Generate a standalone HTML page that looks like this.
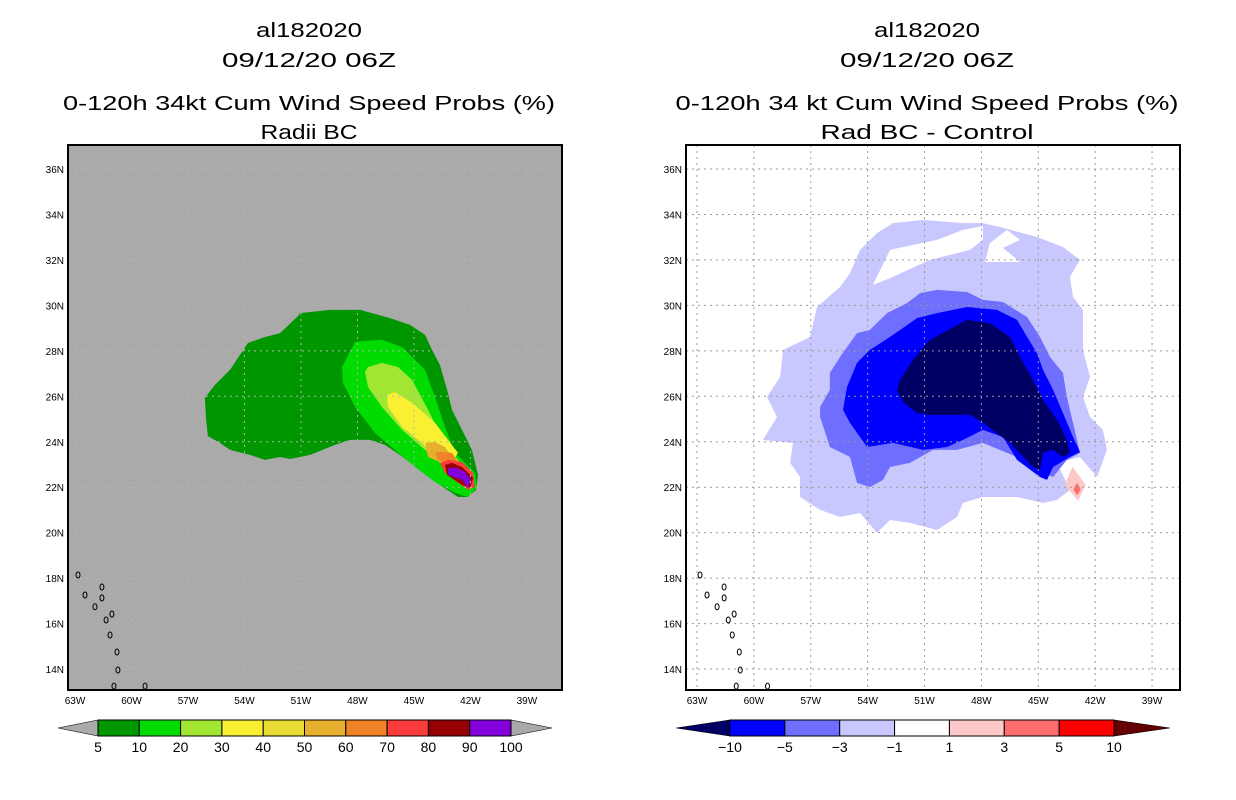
<!DOCTYPE html>
<html><head><meta charset="utf-8"><style>
html,body{margin:0;padding:0;background:#fff;}
svg{display:block;font-family:"Liberation Sans",sans-serif;}
</style></head><body>
<svg id="fig" width="1236" height="800" viewBox="0 0 1236 800">
<g id="titles" font-size="20" fill="#000">
<text x="309" y="37" text-anchor="middle" textLength="106" lengthAdjust="spacingAndGlyphs">al182020</text>
<text x="309" y="67" text-anchor="middle" textLength="174" lengthAdjust="spacingAndGlyphs">09/12/20 06Z</text>
<text x="309" y="110" text-anchor="middle" textLength="492" lengthAdjust="spacingAndGlyphs">0-120h 34kt Cum Wind Speed Probs (%)</text>
<text x="309" y="139" text-anchor="middle" textLength="97" lengthAdjust="spacingAndGlyphs">Radii BC</text>
<text x="927" y="37" text-anchor="middle" textLength="106" lengthAdjust="spacingAndGlyphs">al182020</text>
<text x="927" y="67" text-anchor="middle" textLength="174" lengthAdjust="spacingAndGlyphs">09/12/20 06Z</text>
<text x="927" y="110" text-anchor="middle" textLength="503" lengthAdjust="spacingAndGlyphs">0-120h 34 kt Cum Wind Speed Probs (%)</text>
<text x="927" y="139" text-anchor="middle" textLength="213" lengthAdjust="spacingAndGlyphs">Rad BC - Control</text>
</g>
</svg>
<script>
// ---- data (lon, lat in degrees; west negative) ----
const lonTicks = [-63,-60,-57,-54,-51,-48,-45,-42,-39];
const latTicks = [14,16,18,20,22,24,26,28,30,32,34,36];
const leftLevels = ["5","10","20","30","40","50","60","70","80","90","100"];
const leftColors = ["#009600","#00dc00","#a0e632","#faf032","#e6dc32","#e6af2d","#f08228","#fa3c3c","#960000","#8200dc"];
const rightLevels = ["-10","-5","-3","-1","1","3","5","10"];
const rightColors = ["#0000ff","#6e6eff","#c8c8ff","#ffffff","#ffc8c8","#ff6e6e","#ff0000"];
const prob5 = [[-51.05,29.66],[-49.46,29.8],[-47.86,29.8],[-46.27,29.44],[-45.21,29.14],[-44.41,28.7],[-44.04,28.04],[-43.62,27.38],[-43.24,26.28],[-42.98,25.4],[-42.45,24.52],[-41.92,23.64],[-41.6,22.54],[-41.7,21.88],[-42.18,21.57],[-42.66,21.57],[-43.62,22.1],[-44.68,22.76],[-45.74,23.42],[-46.54,23.86],[-47.33,24.08],[-48.4,24.08],[-49.19,23.86],[-50.52,23.42],[-51.58,23.24],[-52.11,23.33],[-52.91,23.2],[-53.71,23.42],[-54.77,23.64],[-55.3,23.95],[-55.94,24.25],[-56.04,24.96],[-56.1,25.93],[-55.57,26.5],[-54.77,27.16],[-53.81,28.35],[-52.91,28.61],[-52.11,28.78],[-51.16,29.53]];
const prob10 = [[-48.13,28.39],[-48.82,27.29],[-48.77,26.59],[-48.13,25.53],[-47.07,24.39],[-46.01,23.64],[-44.94,22.89],[-43.88,22.23],[-42.82,21.75],[-42.13,21.57],[-41.65,22.01],[-41.76,22.63],[-42.82,23.51],[-43.35,24.65],[-43.88,25.97],[-44.41,27.16],[-45.63,28.17],[-46.7,28.48],[-47.76,28.43]];
const prob20 = [[-47.6,27.07],[-47.44,26.41],[-46.7,25.53],[-45.63,24.52],[-44.41,23.64],[-43.35,22.89],[-42.45,22.23],[-41.92,22.01],[-41.86,22.45],[-42.66,23.2],[-43.35,23.95],[-44.25,25.4],[-45.1,26.72],[-45.85,27.29],[-46.7,27.47],[-47.44,27.29]];
const prob30 = [[-46.43,26.06],[-46.38,25.53],[-45.63,24.65],[-44.57,23.95],[-43.88,23.33],[-43.08,22.98],[-42.66,23.51],[-43.19,24.08],[-43.88,24.83],[-45.1,25.71],[-46.01,26.19]];
const prob40 = [[-44.41,23.95],[-44.25,23.33],[-43.51,23.07],[-42.98,23.33],[-43.35,23.77],[-43.88,23.99]];
const prob60 = [[-43.88,23.51],[-43.72,23.2],[-43.19,23.02],[-42.66,23.11],[-42.98,23.51],[-43.51,23.55]];
const prob70 = [[-43.62,23.07],[-43.35,22.63],[-42.66,22.19],[-42.13,21.88],[-41.76,22.01],[-41.86,22.63],[-42.45,23.11],[-43.19,23.2]];
const prob80 = [[-43.35,22.98],[-43.24,22.54],[-42.45,22.1],[-42.02,21.97],[-41.86,22.41],[-42.45,22.89],[-42.98,23.07]];
const prob90 = [[-43.19,22.85],[-43.19,22.54],[-42.45,22.32],[-42.13,21.97],[-41.97,22.32],[-42.29,22.67],[-42.71,22.85]];
const diff1 = [[-53.51,33.18],[-52.66,33.62],[-51.08,33.76],[-48.97,33.62],[-47.92,33.62],[-47.02,33.45],[-45.07,33.01],[-43.7,32.57],[-42.8,32.0],[-43.33,31.25],[-43.17,30.37],[-42.64,29.8],[-42.64,28.04],[-42.27,26.85],[-42.64,25.97],[-42.27,25.09],[-41.59,24.52],[-41.38,23.64],[-41.9,22.45],[-42.8,23.33],[-44.01,23.07],[-43.33,21.88],[-44.01,21.44],[-44.75,21.31],[-46.12,21.57],[-47.92,21.57],[-48.97,21.31],[-49.29,20.69],[-50.34,20.12],[-51.77,20.43],[-52.82,20.56],[-53.51,19.99],[-54.4,20.87],[-55.46,20.69],[-56.51,21.0],[-57.57,21.57],[-57.57,22.45],[-58.09,23.07],[-57.94,23.95],[-59.52,24.08],[-58.78,25.09],[-59.31,25.97],[-58.62,26.85],[-58.46,28.04],[-57.04,28.61],[-56.67,29.93],[-55.46,30.81],[-54.93,31.42],[-54.4,32.44]];
const holeA = [[-48.97,33.32],[-50.34,32.88],[-52.82,32.44],[-53.72,30.9],[-52.82,31.2],[-50.71,32.0],[-48.6,32.44],[-47.92,32.88],[-47.92,33.49]];
const holeB = [[-47.55,32.74],[-46.65,33.32],[-45.96,32.88],[-46.86,32.53],[-45.96,31.91],[-47.81,31.91]];
const diff3 = [[-50.34,30.68],[-48.76,30.59],[-47.92,30.24],[-46.86,30.15],[-45.59,29.49],[-44.91,28.61],[-44.38,27.73],[-43.7,27.03],[-43.49,25.97],[-43.17,24.83],[-42.8,23.51],[-43.49,23.2],[-44.22,22.45],[-44.75,22.63],[-46.12,23.33],[-47.92,23.95],[-49.29,23.64],[-50.55,23.64],[-51.77,23.07],[-52.82,22.89],[-53.19,22.32],[-53.88,22.01],[-54.56,22.19],[-54.93,23.33],[-55.99,23.77],[-56.51,25.09],[-56.51,25.53],[-55.99,26.28],[-55.99,27.03],[-55.46,27.73],[-54.56,28.78],[-53.88,28.92],[-52.98,29.66],[-51.92,30.1],[-51.24,30.54]];
const diff5 = [[-51.4,29.44],[-50.34,29.66],[-48.76,29.93],[-47.18,29.8],[-46.12,29.36],[-45.59,28.61],[-45.07,27.9],[-44.75,27.16],[-44.22,26.28],[-43.7,25.27],[-43.17,24.21],[-42.8,23.55],[-43.33,23.33],[-44.22,22.89],[-44.54,22.32],[-44.91,22.45],[-46.12,23.2],[-46.86,24.21],[-47.92,24.52],[-48.97,24.08],[-49.81,23.77],[-51.08,23.64],[-52.66,23.95],[-54.03,23.77],[-54.93,24.83],[-55.3,25.4],[-55.09,26.41],[-54.56,27.47],[-53.88,28.04],[-52.82,28.61],[-51.77,29.22]];
const diff10 = [[-52.45,26.28],[-52.29,26.72],[-51.61,27.6],[-50.71,28.48],[-50.03,28.79],[-48.76,29.36],[-47.55,29.22],[-46.49,28.61],[-45.96,27.73],[-45.28,26.72],[-44.75,25.84],[-44.01,24.96],[-43.49,24.08],[-43.33,23.51],[-43.7,23.33],[-44.22,23.64],[-44.75,23.51],[-44.91,22.76],[-45.28,22.89],[-46.49,23.95],[-47.92,24.83],[-48.6,25.18],[-50.71,25.18],[-51.4,25.27],[-52.14,25.75]];
const pinkA = [[-43.2,22.9],[-43.6,22.1],[-42.9,21.4],[-42.5,22.1]];
const redA = [[-42.95,22.2],[-43.15,21.9],[-42.95,21.65],[-42.75,21.9]];
const islands = [[-62.84,18.14],[-62.47,17.26],[-61.94,16.74],[-61.57,17.61],[-61.57,17.13],[-61.35,16.16],[-61.04,16.42],[-61.14,15.5],[-60.77,14.75],[-60.72,13.96],[-60.93,13.25],[-59.28,13.25]];

const NS = "http://www.w3.org/2000/svg";
const fig = document.getElementById('fig');
function mk(tag, attrs, parent){const e=document.createElementNS(NS,tag);for(const k in attrs)e.setAttribute(k,attrs[k]);(parent||fig).appendChild(e);return e;}

function panel(name, x0, x1, ax, bg){
  const X = lon => ax + (lon + 63) * ((x1===1180)?18.96:18.83);
  const Y = lat => 169 + (36 - lat) * 22.73;
  const g = mk('g',{});
  
  
  const cid = name + '-clip';
  const cp = mk('clipPath',{id:cid},g);
  mk('rect',{x:x0,y:145,width:x1-x0,height:545},cp);
  const bgr = mk('rect',{x:x0,y:145,width:x1-x0,height:545,fill:bg},g);
  
  
  const inner = mk('g',{'clip-path':'url(#'+cid+')'},g);
  const poly = (pts, fill, nm) => {
    const p = mk('polygon',{points:pts.map(p=>X(p[0]).toFixed(1)+','+Y(p[1]).toFixed(1)).join(' '),fill:fill},inner);
    
    
  };
  return {X,Y,g,inner,poly};
}

function frame(P, name, x0, x1, gridColor){
  const {X,Y,g,inner} = P;
  lonTicks.forEach(l=>{
    const ln = mk('line',{x1:X(l),x2:X(l),y1:145,y2:690,stroke:gridColor,'stroke-width':1,'stroke-dasharray':'2,4'},inner);
    
    
    const t = mk('text',{x:X(l),y:704,'font-size':10,'text-anchor':'middle',fill:'#000'},g);
    t.textContent = Math.abs(l)+'W';
    
    
  });
  latTicks.forEach(l=>{
    const ln = mk('line',{x1:x0,x2:x1,y1:Y(l),y2:Y(l),stroke:gridColor,'stroke-width':1,'stroke-dasharray':'2,4'},inner);
    
    
    const t = mk('text',{x:x0-4,y:Y(l)+4,'font-size':10,'text-anchor':'end',fill:'#000'},g);
    t.textContent = l+'N';
    
    
  });
  islands.forEach(p=>{
    const e = mk('ellipse',{cx:X(p[0]),cy:Y(p[1]),rx:2,ry:3,fill:'none',stroke:'#000','stroke-width':1},inner);
    
    
  });
  const b = mk('rect',{x:x0,y:145,width:x1-x0,height:545,fill:'none',stroke:'#000','stroke-width':2},g);
  
  
}

// Left panel
const L = panel('left', 68, 562, 75, '#aaaaaa');
L.poly(prob5, leftColors[0], 'prob-5-contour');
L.poly(prob10, leftColors[1], 'prob-10-contour');
L.poly(prob20, leftColors[2], 'prob-20-contour');
L.poly(prob30, leftColors[3], 'prob-30-contour');
L.poly(prob40, leftColors[5], 'prob-40-contour');
L.poly(prob60, leftColors[6], 'prob-60-contour');
L.poly(prob70, leftColors[7], 'prob-70-contour');
L.poly(prob80, leftColors[8], 'prob-80-contour');
L.poly(prob90, leftColors[9], 'prob-90-contour');
frame(L, 'left', 68, 562, '#b4b4b4');

// Right panel
const R = panel('right', 686, 1180, 697, '#ffffff');
R.poly(diff1, '#c8c8ff', 'diff-minus1-contour');
R.poly(holeA, '#ffffff', 'diff-hole-a');
R.poly(holeB, '#ffffff', 'diff-hole-b');
R.poly(diff3, '#6e6eff', 'diff-minus3-contour');
R.poly(diff5, '#0000ff', 'diff-minus5-contour');
R.poly(diff10, '#000064', 'diff-minus10-contour');
R.poly(pinkA, '#ffc8c8', 'diff-plus1-contour');
R.poly(redA, '#ff6e6e', 'diff-plus3-contour');
frame(R, 'right', 686, 1180, '#999999');

// Colorbars
function colorbar(name, left, right, xa, xb, colors, levels, lowCol, highCol){
  const g = mk('g',{});
  
  
  const y0=720, y1=736, ym=728;
  const w = (xb-xa)/colors.length;
  const lt = mk('polygon',{points:`${left},${ym} ${xa},${y0} ${xa},${y1}`,fill:lowCol,stroke:'#000','stroke-width':0.6},g);
  
  
  const rt = mk('polygon',{points:`${right},${ym} ${xb},${y0} ${xb},${y1}`,fill:highCol,stroke:'#000','stroke-width':0.6},g);
  
  
  colors.forEach((c,i)=>{
    const r = mk('rect',{x:xa+i*w,y:y0,width:w,height:y1-y0,fill:c,stroke:'#000','stroke-width':1},g);
    
    
  });
  levels.forEach((lv,i)=>{
    const t = mk('text',{x:xa+i*w,y:752,'font-size':14,'text-anchor':'middle',fill:'#000'},g);
    t.textContent = lv.replace('-','\u2212');
    
    
  });
}
colorbar('left-colorbar', 58, 552, 98, 511, leftColors, leftLevels, '#aaaaaa', '#aaaaaa');
colorbar('right-colorbar', 676, 1170, 730, 1114, rightColors, rightLevels, '#000064', '#640000');
</script>
</body></html>
